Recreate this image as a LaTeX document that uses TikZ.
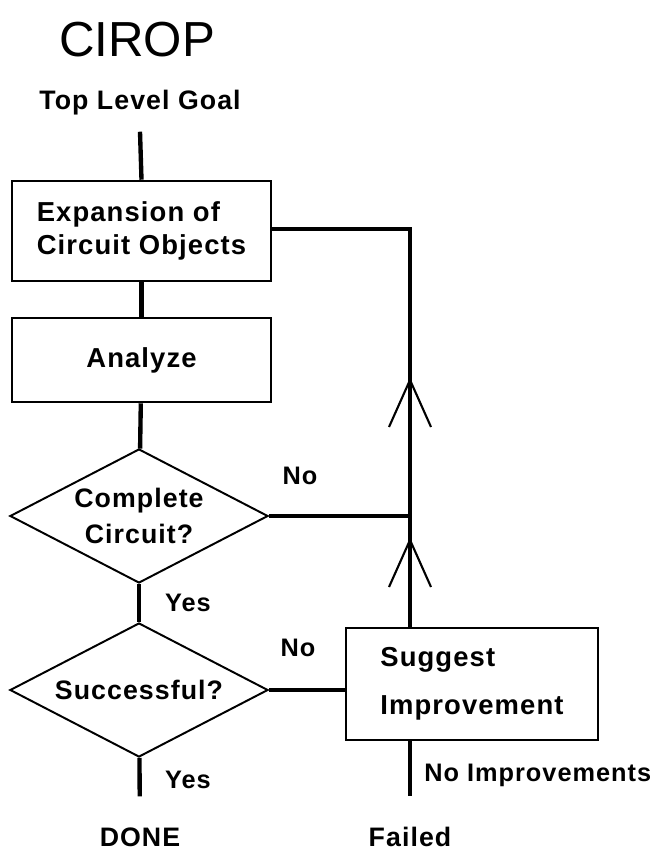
\documentclass[tikz,border=0pt]{standalone}
\usepackage{fontspec}
\setmainfont{Liberation Sans}[LetterSpace=4]
\newfontfamily\titlefont{Liberation Sans}
\usetikzlibrary{shapes.geometric}
\tikzset{
  box/.style={draw,line width=1.8pt,minimum width=6.475cm,align=center,
    font=\bfseries\fontsize{19.5}{24}\selectfont},
  decision/.style={diamond,draw,line width=1.4pt,aspect=2,inner sep=0pt,
    minimum width=6.45cm,minimum height=3.35cm,align=center,
    font=\bfseries\fontsize{19}{25}\selectfont},
  lbl/.style={font=\bfseries\fontsize{18}{20}\selectfont,inner sep=0pt},
  flow/.style={line width=3.1pt},
  barb/.pic={\draw[line width=1.5pt] (-21,47) -- (0,0) -- (21,47);}
}
\begin{document}
\begin{tikzpicture}[x=0.025cm,y=-0.025cm]
  \useasboundingbox (0,0) rectangle (670,852);
  \node[font=\titlefont\fontsize{35}{35}\selectfont] (title) at (137,40) {CIROP};
  \node[lbl,font=\bfseries\fontsize{19}{20}\selectfont] (goal) at (140,103) {Top Level Goal};

  % main column
  \node[box,minimum height=2.5cm,align=left] (expand) at (141.5,231) {Expansion of\\Circuit Objects};
  \node[box,minimum height=2.1cm] (analyze) at (141.5,360) {Analyze};
  \node[decision] (complete) at (139,516) {Complete\\Circuit?};
  \node[decision] (successful) at (139,690) {Successful?};
  \node[box,minimum width=6.3cm,minimum height=2.8cm,align=left,
    font=\bfseries\fontsize{19.5}{34}\selectfont] (suggest) at (472,684) {Suggest\\Improvement};

  \node[lbl,font=\bfseries\fontsize{19}{20}\selectfont] (done) at (140,837) {DONE};
  \node[lbl,font=\bfseries\fontsize{19}{20}\selectfont] (failed) at (410,837) {Failed};
  \coordinate (corner) at (410,229);

  \draw[flow] (goal.south) ++(0,16) -- (expand.north);
  \draw[flow] (expand) -- (analyze);
  \draw[flow] (analyze) -- (complete);
  \draw[flow] (complete) -- (successful);
  \draw[flow,shorten >=22pt] (successful) -- (done);

  % feedback loop
  \draw[flow] (expand.east |- corner) -- (corner) -- (corner |- suggest.north);
  \draw[flow] (complete.east) -- (complete.east -| corner);
  \draw[flow] (successful.east) -- (successful.east -| suggest.west);
  \draw[flow,shorten >=22pt] (corner |- suggest.south) -- (failed);
  \pic at (410,380) {barb};
  \pic at (410,540) {barb};

  \node[lbl] (no1) at (300,476) {No};
  \node[lbl] (yes1) at (188,603) {Yes};
  \node[lbl] (no2) at (298,648) {No};
  \node[lbl] (yes2) at (188,780) {Yes};
  \node[lbl,anchor=west] (noimp) at (424,775) {No Improvements};
\end{tikzpicture}
\end{document}
